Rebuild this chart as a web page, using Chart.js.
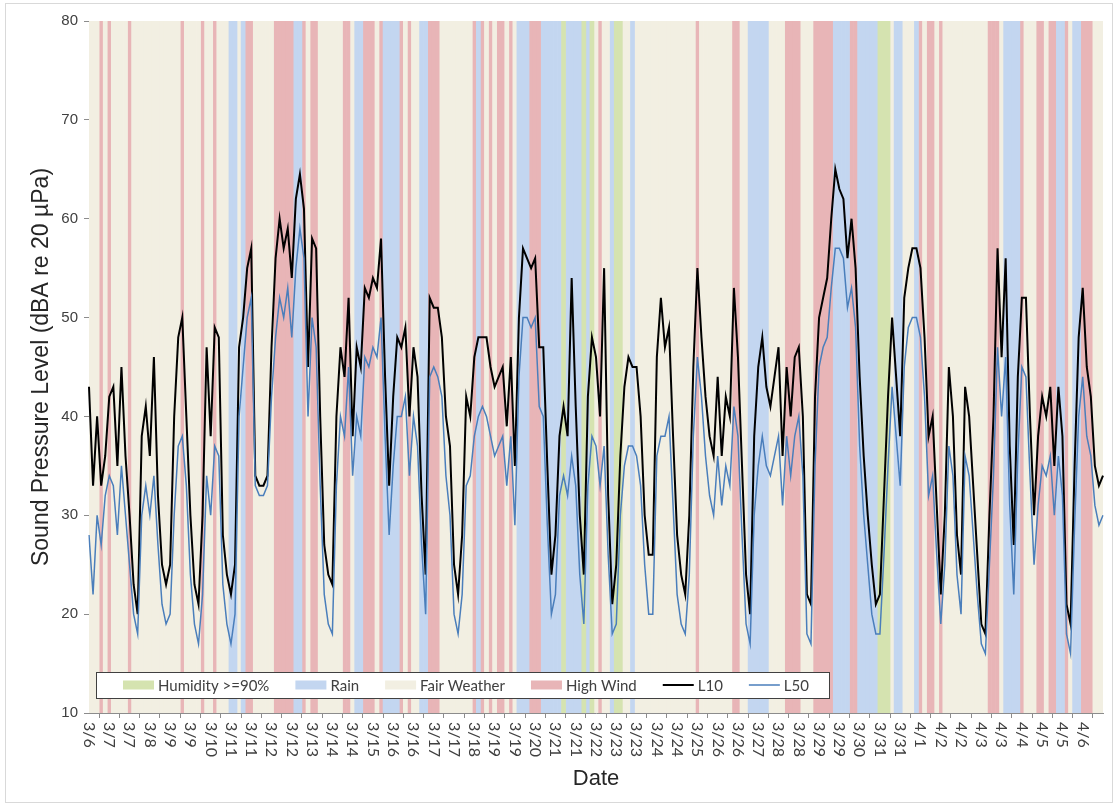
<!DOCTYPE html>
<html>
<head>
<meta charset="utf-8">
<script src="https://cdn.jsdelivr.net/npm/chart.js@4.4.1/dist/chart.umd.min.js"></script>
<style>
  html, body { margin: 0; padding: 0; background: #fff; }
  #wrap { width: 1115px; height: 805px; }
</style>
</head>
<body>
<div id="wrap"><canvas id="c" width="1115" height="805"></canvas></div>
<script>
// Date labels shown along the axis, one every `pointsPerLabel` readings
const tickLabels = ['3/6','3/7','3/7','3/8','3/9','3/9','3/10','3/11','3/11','3/12','3/12','3/13','3/14','3/14',
  '3/15','3/16','3/16','3/17','3/17','3/18','3/19','3/19','3/20','3/21','3/21','3/22','3/23','3/23','3/24','3/24',
  '3/25','3/26','3/26','3/27','3/28','3/28','3/29','3/29','3/30','3/31','3/31','4/1','4/2','4/2','4/3','4/3',
  '4/4','4/5','4/5','4/6'];
const pointsPerLabel = 5;

// L10 sound level, dBA
const l10 = [
  43,33,40,33,36,42,43,35,45,36,
  30,23,20,38,41,36,46,32,25,23,
  25,40,48,50,40,30,23,21,30,47,
  38,49,48,28,24,22,25,47,50,55,
  57,34,33,33,34,47,56,60,57,59,
  54,62,64.5,61,45,58,57,40,27,24,
  23,40,47,44,52,38,47,45,53,52,
  54,53,58,44,33,42,48,47,49,40,
  47,44,32,24,52,51,51,48,40,37,
  25,22,28,42,40,46,48,48,48,45,
  43,44,45,39,46,35,50,57,56,55,
  56,47,47,35,24,28,38,41,38,54,
  41,30,24,42,48,46,40,55,32,21,
  25,36,43,46,45,45,40,30,26,26,
  46,52,47,49,38,28,24,22,30,45,
  55,48,42,38,36,44,36,42,40,53,
  46,35,24,20,38,45,48,43,41,44,
  47,36,45,40,46,47,40,22,21,42,
  50,52,54,60,65,63,62,56,60,55,
  44,36,30,25,21,22,32,42,50,44,
  38,52,55,57,57,55,48,38,40,31,
  22,30,45,40,28,24,43,40,33,26,
  19,18,30,40,57,46,56,37,27,44,
  52,52,40,30,38,42,40,43,35,43,
  38,21,19,35,48,53,45,42,35,33,
  34
];

// L50 sound level, dBA
const l50 = [
  28,22,30,27,32,34,33,28,35,30,
  25,20,18,30,33,30,34,27,21,19,
  20,30,37,38,33,24,19,17,22,34,
  30,37,36,23,19,17,20,40,45,50,
  52,33,32,32,33,42,48,52,50,53,
  48,55,59,56,40,50,47,33,22,19,
  18,33,40,38,45,34,40,38,46,45,
  47,46,50,38,28,35,40,40,42,34,
  40,37,27,20,44,45,44,42,34,30,
  20,18,22,33,34,38,40,41,40,38,
  36,37,38,33,38,29,44,50,50,49,
  50,41,40,29,20,22,32,34,32,36,
  33,24,19,33,38,37,33,37,26,18,
  19,30,35,37,37,36,33,25,20,20,
  36,38,38,40,31,22,19,18,24,38,
  46,42,36,32,30,36,31,35,33,41,
  38,28,19,17,30,35,38,35,34,36,
  38,31,38,34,38,40,34,18,17,35,
  45,47,48,53,57,57,56,51,53,49,
  37,30,25,20,18,18,26,35,43,38,
  33,45,49,50,50,48,42,32,34,26,
  19,25,37,34,24,20,36,34,28,22,
  17,16,25,34,47,40,46,31,22,36,
  45,44,34,25,31,35,34,36,30,36,
  32,18,16,29,40,44,38,36,31,29,
  30
];

// Weather condition for each reading: H humidity, R rain, F fair, W high wind
const weather = (
  'FFFWFWFFFF' + 'WFFFFFFFFF' + 'FFFWFFFFWF' + 'FWFFFRRFRW' + 'WFFFFFWWWW' +
  'WRRWFWWFFF' + 'FFFWWFRRWW' + 'WFWRRRRWFW' + 'FFRRWWWFFF' + 'FFFFFWRWFW' +
  'FWWFWFRRRW' + 'WWRRRRRHRR' + 'RRHRHFWFFR' + 'HHFFRFFFFF' + 'FFFFFFFFFF' +
  'WFFFFFFFFW' + 'WFFRRRRRFF' + 'FFWWWWFFFW' + 'WWWWRRRRWW' + 'RRRRRHHHFR' +
  'RFFFRWFWWF' + 'WFFFFFFFFF' + 'FFWWWFRRRR' + 'WFFFWWFWWR' + 'RWFRRWWWFF' + 'F'
).split('');

const conditionCodes = ['H', 'R', 'F', 'W'];
const conditionNames = ['Humidity >=90%', 'Rain', 'Fair Weather', 'High Wind'];
const conditionColors = ['#D5E3B0', '#C3D6F0', '#F2EFE2', '#E8B5B7'];

const categories = l10.map((_, i) =>
  i % pointsPerLabel === 0 && i / pointsPerLabel < tickLabels.length ? tickLabels[i / pointsPerLabel] : '');

const bandSets = conditionCodes.map((code, k) => ({
  type: 'bar',
  label: conditionNames[k],
  data: weather.map(w => (w === code ? 80 : null)),
  backgroundColor: conditionColors[k],
  borderWidth: 0,
  barPercentage: 1,
  categoryPercentage: 1,
  grouped: false,
  order: 3
}));

const lineSets = [
  { type: 'line', label: 'L10', data: l10, borderColor: '#000000', borderWidth: 2,
    pointRadius: 0, tension: 0, order: 1 },
  { type: 'line', label: 'L50', data: l50, borderColor: '#4A7EBB', borderWidth: 1.5,
    pointRadius: 0, tension: 0, order: 0 }
];

// White page with a thin frame around the whole figure
const frame = {
  id: 'frame',
  beforeDraw(chart) {
    const c = chart.ctx;
    c.save();
    c.fillStyle = '#ffffff';
    c.fillRect(0, 0, chart.width, chart.height);
    c.strokeStyle = '#d9d9d9';
    c.lineWidth = 1;
    c.strokeRect(5.5, 3.5, chart.width - 8, chart.height - 6);
    c.restore();
  }
};

// Date labels turned a quarter clockwise, reading downward from the axis
const dateTicks = {
  id: 'dateTicks',
  afterDraw(chart) {
    const sx = chart.scales.x, c = chart.ctx;
    c.save();
    c.font = '16px Lato';
    c.fillStyle = '#404040';
    c.textAlign = 'left';
    c.textBaseline = 'middle';
    sx.ticks.forEach(t => {
      const x = sx.getPixelForValue(t.value);
      c.save();
      c.translate(x, sx.top + 9);
      c.rotate(Math.PI / 2);
      c.fillText(tickLabels[t.value / pointsPerLabel], 0, 0);
      c.restore();
    });
    c.restore();
  }
};

// Boxed legend sitting inside the plot, along its lower edge
const boxLegend = {
  id: 'boxLegend',
  afterDraw(chart) {
    const c = chart.ctx, a = chart.chartArea;
    const sw = 31, textGap = 4, itemGap = 26, padL = 27, padR = 20;
    c.save();
    c.font = '15px Lato';
    const items = chart.data.datasets.map(ds => ({
      label: ds.label, line: ds.type === 'line',
      color: ds.type === 'line' ? ds.borderColor : ds.backgroundColor, lw: ds.borderWidth
    }));
    let w = padL + padR - itemGap;
    items.forEach(it => { w += sw + textGap + c.measureText(it.label).width + itemGap; });
    const bx = a.left + 7, by = a.bottom - 41, bh = 26;
    c.fillStyle = '#ffffff';
    c.fillRect(bx, by, w, bh);
    c.strokeStyle = '#404040';
    c.lineWidth = 1;
    c.strokeRect(Math.round(bx) + 0.5, Math.round(by) + 0.5, Math.round(w), bh);
    let x = bx + padL;
    const cy = by + bh / 2;
    c.textBaseline = 'middle';
    c.textAlign = 'left';
    items.forEach(it => {
      if (it.line) {
        c.strokeStyle = it.color;
        c.lineWidth = it.lw;
        c.beginPath();
        c.moveTo(x, cy); c.lineTo(x + sw, cy);
        c.stroke();
      } else {
        c.fillStyle = it.color;
        c.fillRect(x, cy - 4.5, sw, 9);
      }
      x += sw + textGap;
      c.fillStyle = '#404040';
      c.fillText(it.label, x, cy + 1);
      x += c.measureText(it.label).width + itemGap;
    });
    c.restore();
  }
};

new Chart(document.getElementById('c'), {
  type: 'bar',
  data: { labels: categories, datasets: [...bandSets, ...lineSets] },
  options: {
    responsive: false,
    animation: false,
    events: [],
    layout: { padding: { top: 21, right: 12, left: 0, bottom: 0 } },
    plugins: { legend: { display: false }, tooltip: { enabled: false } },
    scales: {
      x: {
        type: 'category',
        offset: false,
        afterBuildTicks(s) {
          s.ticks = s.ticks.filter(t => t.value % pointsPerLabel === 0 && t.value / pointsPerLabel < tickLabels.length);
        },
        afterFit(s) { s.height = 92; },
        ticks: { display: false, autoSkip: false },
        grid: { display: true, drawOnChartArea: false, drawTicks: true, tickLength: 5, color: '#8c8c8c' },
        border: { display: true, color: '#8c8c8c' },
        title: { display: true, text: 'Date', color: '#262626',
                 font: { family: 'Liberation Sans', size: 22 }, padding: { top: 0, bottom: 13 } }
      },
      y: {
        min: 10, max: 80,
        afterFit(s) { s.width = 89; },
        ticks: { stepSize: 10, color: '#404040', padding: 6, font: { family: 'Liberation Sans', size: 15 } },
        grid: { display: true, drawOnChartArea: false, drawTicks: true, tickLength: 5, color: '#8c8c8c' },
        border: { display: true, color: '#8c8c8c' },
        title: { display: true, text: 'Sound Pressure Level (dBA re 20 µPa)', color: '#262626',
                 font: { family: 'Liberation Sans', size: 23 }, padding: { top: 28, bottom: 0 } }
      }
    }
  },
  plugins: [frame, dateTicks, boxLegend]
});
</script>
</body>
</html>
